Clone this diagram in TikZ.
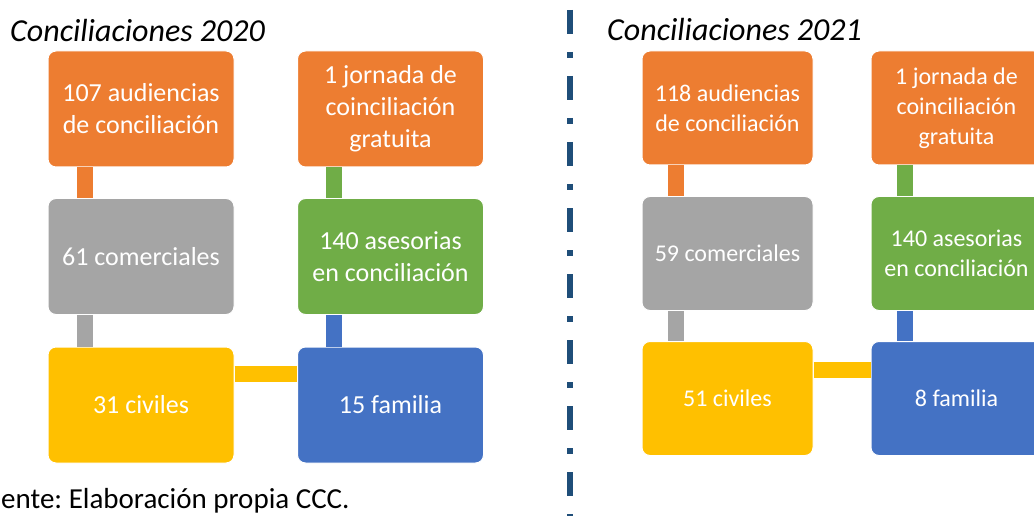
\documentclass[tikz,border=0pt]{standalone}
\usepackage{fontspec}
\setmainfont{Carlito}
\usepackage{xcolor}
\definecolor{boxorange}{HTML}{ED7D31}
\definecolor{boxgray}{HTML}{A5A5A5}
\definecolor{boxgreen}{HTML}{70AD47}
\definecolor{boxyellow}{HTML}{FFC000}
\definecolor{boxblue}{HTML}{4472C4}
\definecolor{sepblue}{HTML}{1F4E79}
\frenchspacing
\begin{document}
\begin{tikzpicture}[x=1pt,y=-1pt,
  card/.style={draw=white, line width=1pt, rounded corners=8pt, text=white,
    minimum width=186pt, minimum height=116pt, align=center, inner sep=0pt,
    font=\fontsize{26}{32}\selectfont},
  cardb/.style={card, minimum width=171pt, minimum height=114pt,
    font=\fontsize{24}{30}\selectfont},
  link/.style={line width=16pt},
  titletxt/.style={font=\fontsize{32}{38}\selectfont\itshape, anchor=base west, inner sep=0pt}]
\useasboundingbox (0,0) rectangle (1034,516);

% 2020
\node [titletxt] (t20) at (10,42) {Conciliaciones 2020};
\node [card, fill=boxorange] (aud20) at (141,109) {107 audiencias\\de conciliación};
\node [card, fill=boxorange] (jor20) at (390.5,109) {1 jornada de\\coinciliación\\gratuita};
\node [card, fill=boxgray] (com20) at (141,256.5) {61 comerciales};
\node [card, fill=boxgreen] (ase20) at (390.5,256.5) {140 asesorias\\en conciliación};
\node [card, fill=boxyellow] (civ20) at (141,405) {31 civiles};
\node [card, fill=boxblue] (fam20) at (390.5,405) {15 familia};
\draw [link, boxorange] ([xshift=37pt]aud20.south west) -- ([xshift=37pt]com20.north west);
\draw [link, boxgray] ([xshift=37pt]com20.south west) -- ([xshift=37pt]civ20.north west);
\draw [link, boxgreen] ([xshift=37pt]jor20.south west) -- ([xshift=37pt]ase20.north west);
\draw [link, boxblue] ([xshift=37pt]ase20.south west) -- ([xshift=37pt]fam20.north west);
\draw [link, boxyellow] ([yshift=-27.5pt]civ20.north east) -- ([yshift=-27.5pt]fam20.north west);

% separador
\coordinate (sepA) at (570,10);
\coordinate (sepB) at (570,516);
\draw [sepblue, line width=6pt, dash pattern=on 24pt off 18pt on 6pt off 18pt] (sepA) -- (sepB);

% 2021
\node [titletxt] (t21) at (607,41) {Conciliaciones 2021};
\node [cardb, fill=boxorange] (aud21) at (727.5,108) {118 audiencias\\de conciliación};
\node [cardb, fill=boxorange] (jor21) at (956.5,108) {1 jornada de\\coinciliación\\gratuita};
\node [cardb, fill=boxgray] (com21) at (727.5,253.5) {59 comerciales};
\node [cardb, fill=boxgreen] (ase21) at (956.5,253.5) {140 asesorias\\en conciliación};
\node [cardb, fill=boxyellow] (civ21) at (727.5,398.5) {51 civiles};
\node [cardb, fill=boxblue] (fam21) at (956.5,398.5) {8 familia};
\draw [link, boxorange] ([xshift=34pt]aud21.south west) -- ([xshift=34pt]com21.north west);
\draw [link, boxgray] ([xshift=34pt]com21.south west) -- ([xshift=34pt]civ21.north west);
\draw [link, boxgreen] ([xshift=34pt]jor21.south west) -- ([xshift=34pt]ase21.north west);
\draw [link, boxblue] ([xshift=34pt]ase21.south west) -- ([xshift=34pt]fam21.north west);
\draw [link, boxyellow] ([yshift=-28.5pt]civ21.north east) -- ([yshift=-28.5pt]fam21.north west);

\node [font=\fontsize{29}{34}\selectfont, anchor=base west, inner sep=0pt] (src) at (1,508.5) {ente: Elaboración propia CCC.};
\end{tikzpicture}
\end{document}
